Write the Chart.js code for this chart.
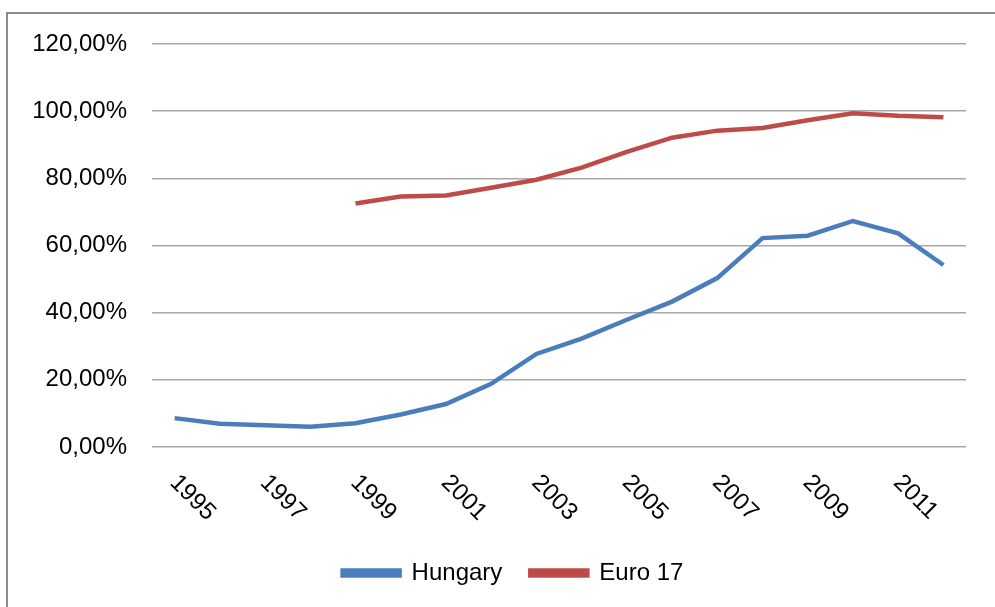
<!DOCTYPE html>
<html>
<head>
<meta charset="utf-8">
<script src="https://cdn.jsdelivr.net/npm/chart.js@4/dist/chart.umd.min.js"></script>
<style>
  html, body { margin: 0; padding: 0; background: #fff; overflow: hidden; }
  #wrap { position: relative; width: 995px; height: 607px; }
  #frame { position: absolute; left: 6px; top: 12px; width: 1100px; height: 700px; border: 2px solid #8c8c8c; box-sizing: border-box; }
  canvas { position: absolute; left: 0; top: 0; }
</style>
</head>
<body>
<div id="wrap">
  <div id="frame"></div>
  <canvas id="c" width="995" height="607"></canvas>
</div>
<script>
const years = ['1995','1996','1997','1998','1999','2000','2001','2002','2003','2004','2005','2006','2007','2008','2009','2010','2011','2012'];
const xTickLabels = ['1995','','1997','','1999','','2001','','2003','','2005','','2007','','2009','','2011',''];
const hungary = [8.6, 6.9, 6.5, 6.0, 7.1, 9.7, 12.8, 18.8, 27.7, 32.3, 37.9, 43.3, 50.3, 62.2, 62.9, 67.3, 63.6, 54.2];
const euro17 = [null, null, null, null, 72.5, 74.6, 74.9, 77.2, 79.6, 83.2, 87.9, 92.1, 94.2, 95.0, 97.3, 99.4, 98.6, 98.2];
const yTickLabels = ['0,00%', '20,00%', '40,00%', '60,00%', '80,00%', '100,00%', '120,00%'];

const FONT = 'Liberation Sans, Arial, sans-serif';

const rotatedXLabels = {
  id: 'rotatedXLabels',
  afterLayout(chart) {
    if (chart.legend) { chart.legend.left += 20; chart.legend.right += 20; }
  },
  afterDraw(chart) {
    const ctx = chart.ctx;
    const xs = chart.scales.x;
    ctx.save();
    ctx.font = '24px ' + FONT;
    ctx.fillStyle = '#000';
    ctx.textAlign = 'left';
    ctx.textBaseline = 'middle';
    xTickLabels.forEach((lab, i) => {
      if (!lab) return;
      const px = xs.getPixelForValue(i);
      ctx.save();
      ctx.translate(px - 1, chart.chartArea.bottom + 32);
      ctx.rotate(Math.PI / 4);
      ctx.fillText(lab, 0, 0);
      ctx.restore();
    });
    ctx.restore();
  }
};

new Chart(document.getElementById('c'), {
  type: 'line',
  data: {
    labels: years,
    datasets: [
      { label: 'Hungary', data: hungary, borderColor: '#4A7EBB', backgroundColor: '#4A7EBB', borderWidth: 4.5, pointRadius: 0, tension: 0, fill: false },
      { label: 'Euro 17', data: euro17, borderColor: '#BE4B48', backgroundColor: '#BE4B48', borderWidth: 4.5, pointRadius: 0, tension: 0, fill: false, spanGaps: false }
    ]
  },
  options: {
    responsive: false,
    animation: false,
    layout: { padding: { left: 20, right: 29, top: 44, bottom: 12 } },
    plugins: {
      legend: {
        position: 'bottom',
        labels: {
          boxWidth: 57,
          boxHeight: 5,
          padding: 28,
          color: '#000',
          font: { family: FONT, size: 24 }
        }
      },
      tooltip: { enabled: false }
    },
    scales: {
      x: {
        offset: true,
        grid: { display: false, drawTicks: false },
        border: { display: false },
        ticks: { display: false },
        afterFit(s) { s.height = 86; }
      },
      y: {
        min: 0,
        max: 120,
        grid: { color: '#a8a8a8', lineWidth: 1.5, drawTicks: false },
        border: { display: false },
        ticks: {
          stepSize: 20,
          padding: 25,
          color: '#000',
          font: { family: FONT, size: 24 },
          callback: (v, i) => yTickLabels[i]
        },
        afterFit(s) { s.width = 132; }
      }
    }
  },
  plugins: [rotatedXLabels]
});
</script>
</body>
</html>
